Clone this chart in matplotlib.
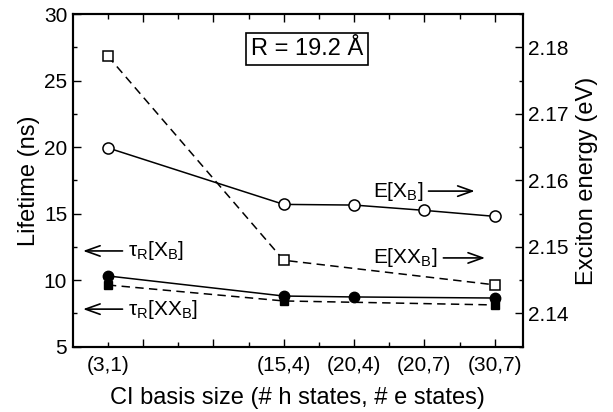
import numpy as np
import matplotlib
matplotlib.use('Agg')
import matplotlib.pyplot as plt
from matplotlib.ticker import MultipleLocator

plt.rcParams['font.family'] = ['Liberation Sans', 'DejaVu Sans']
plt.rcParams['mathtext.fontset'] = 'custom'
plt.rcParams['mathtext.rm'] = 'Liberation Sans'
plt.rcParams['mathtext.it'] = 'Liberation Sans'

# categories and their (non-uniform) positions on the x axis
categories = ['(3,1)', '(15,4)', '(20,4)', '(20,7)', '(30,7)']
cat_pos = [0, 2.5, 3.5, 4.5, 5.5]

# lifetimes (ns), left axis
tau_x_pos = [0, 2.5, 3.5, 5.5]
tau_x = [10.32, 8.81, 8.74, 8.66]
tau_xx_pos = [0, 2.5, 5.5]
tau_xx = [9.64, 8.44, 8.14]

# exciton energies (eV), right axis
e_x_pos = [0, 2.5, 3.5, 4.5, 5.5]
e_x = [2.1649, 2.1564, 2.1563, 2.1555, 2.1546]
e_xx_pos = [0, 2.5, 5.5]
e_xx = [2.1787, 2.1480, 2.1443]

fig = plt.figure(figsize=(6.13, 4.12), dpi=100)
ax = fig.add_axes([0.1186, 0.1585, 0.7344, 0.807])
ax2 = ax.twinx()

dash = (0, (5.5, 3.5))
ax.plot(tau_x_pos, tau_x, '-', color='k', lw=1.1, marker='o', ms=7.5, mfc='k', mec='k', zorder=3)
ax.plot(tau_xx_pos, tau_xx, color='k', lw=1.1, ls=dash, marker='s', ms=6, mfc='k', mec='k', zorder=2)
ax2.plot(e_x_pos, e_x, '-', color='k', lw=1.1, marker='o', ms=8, mfc='white', mec='k', mew=1.1)
ax2.plot(e_xx_pos, e_xx, color='k', lw=1.1, ls=dash, marker='s', ms=6.5, mfc='white', mec='k', mew=1.1)

ax.set_xlim(-0.5, 5.9)
ax.set_ylim(5, 30)
ax2.set_ylim(2.135, 2.185)

# x ticks: long ticks every unit offset by 0.5, short ticks on integers
major_pos = np.arange(0.5, 6, 1)
minor_pos = np.arange(0, 6, 1)
lab = dict(zip(cat_pos, categories))
ax.set_xticks(major_pos, [lab.get(p, '') for p in major_pos])
ax.set_xticks(minor_pos, [lab.get(p, '') for p in minor_pos], minor=True)

ax.yaxis.set_major_locator(MultipleLocator(5))
ax.yaxis.set_minor_locator(MultipleLocator(2.5))
ax2.yaxis.set_major_locator(MultipleLocator(0.01))
ax2.yaxis.set_minor_locator(MultipleLocator(0.005))
ax2.yaxis.set_major_formatter(matplotlib.ticker.FormatStrFormatter('%.2f'))

ax.tick_params(axis='both', which='both', direction='in', top=True, right=False, labelsize=15, width=1)
ax.tick_params(axis='x', which='major', length=6, pad=7)
ax.tick_params(axis='x', which='minor', length=3.5, pad=7)
ax.tick_params(axis='y', which='major', length=6, pad=4)
ax.tick_params(axis='y', which='minor', length=3, pad=4)
ax2.tick_params(axis='y', which='both', direction='in', labelsize=15, width=1, pad=4)
ax2.tick_params(axis='y', which='major', length=6)
ax2.tick_params(axis='y', which='minor', length=3)

for a in (ax, ax2):
    for s in a.spines.values():
        s.set_linewidth(1.5)

ax.set_xlabel('CI basis size (# h states, # e states)', fontsize=17, labelpad=8)
ax.set_ylabel('Lifetime (ns)', fontsize=17, labelpad=3)
ax2.set_ylabel('Exciton energy (eV)', fontsize=17, labelpad=5)

ax.text(0.521, 0.895, 'R = 19.2 Å', transform=ax.transAxes, fontsize=17,
        ha='center', va='center',
        bbox=dict(boxstyle='square,pad=0.2', fc='white', ec='k', lw=1.2))

arr = dict(arrowstyle='->,head_length=0.7,head_width=0.25', lw=1.2, color='k', shrinkA=2, shrinkB=0)
ax.annotate(r'E[X$_\mathregular{B}$]', xy=(0.893, 0.468), xytext=(0.778, 0.468),
            xycoords='axes fraction', textcoords='axes fraction', fontsize=15,
            ha='right', va='center', arrowprops=arr)
ax.annotate(r'E[XX$_\mathregular{B}$]', xy=(0.916, 0.267), xytext=(0.811, 0.267),
            xycoords='axes fraction', textcoords='axes fraction', fontsize=15,
            ha='right', va='center', arrowprops=arr)
ax.annotate(r'$\mathregular{\tau_R}$[X$_\mathregular{B}$]', xy=(0.023, 0.288), xytext=(0.123, 0.288),
            xycoords='axes fraction', textcoords='axes fraction', fontsize=15,
            ha='left', va='center', arrowprops=arr)
ax.annotate(r'$\mathregular{\tau_R}$[XX$_\mathregular{B}$]', xy=(0.023, 0.113), xytext=(0.123, 0.113),
            xycoords='axes fraction', textcoords='axes fraction', fontsize=15,
            ha='left', va='center', arrowprops=arr)

fig.savefig('out.png', dpi=100)
